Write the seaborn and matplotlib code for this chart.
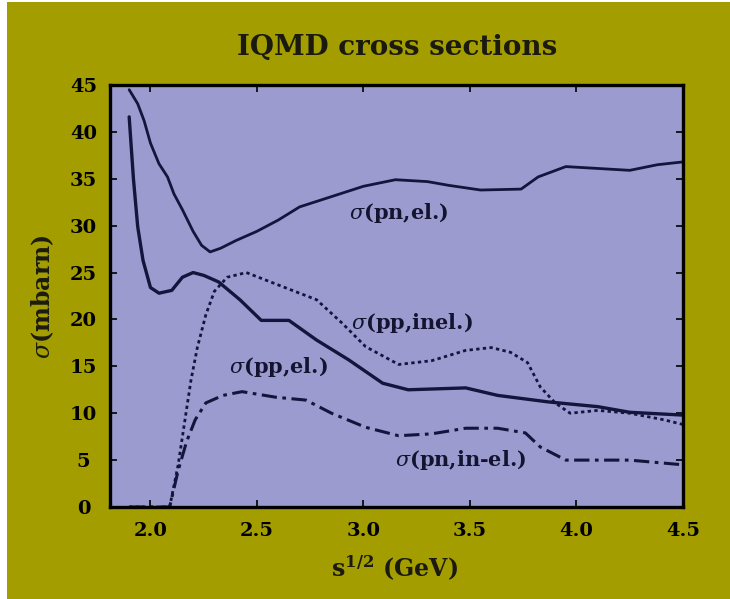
import matplotlib
matplotlib.use("Agg")
import matplotlib.pyplot as plt
import seaborn as sns
from matplotlib.patches import Rectangle

# ---- data ----
x_pn_el = [1.90, 1.94, 1.97, 2.00, 2.04, 2.08, 2.11, 2.15, 2.20, 2.24, 2.28, 2.33, 2.40, 2.50, 2.60,
           2.70, 2.85, 3.00, 3.15, 3.30, 3.40, 3.55, 3.74, 3.82, 3.95, 4.10, 4.25, 4.38, 4.50]
y_pn_el = [44.5, 43.0, 41.2, 38.8, 36.6, 35.2, 33.4, 31.7, 29.4, 27.9, 27.2, 27.6, 28.4, 29.4, 30.6,
           32.0, 33.1, 34.2, 34.9, 34.7, 34.3, 33.8, 33.9, 35.2, 36.3, 36.1, 35.9, 36.5, 36.8]

x_pp_el = [1.90, 1.92, 1.94, 1.965, 2.00, 2.04, 2.10, 2.15, 2.20, 2.25, 2.32, 2.42, 2.52, 2.65,
           2.78, 2.93, 3.09, 3.21, 3.48, 3.63, 3.87, 4.10, 4.25, 4.50]
y_pp_el = [41.6, 35.0, 29.9, 26.3, 23.4, 22.8, 23.1, 24.5, 25.0, 24.7, 24.0, 22.1, 19.9, 19.9,
           17.8, 15.7, 13.2, 12.5, 12.7, 11.9, 11.2, 10.7, 10.1, 9.8]

x_pp_inel = [1.90, 2.00, 2.09, 2.13, 2.16, 2.19, 2.22, 2.26, 2.30, 2.36, 2.45, 2.62, 2.78, 2.90,
             3.01, 3.165, 3.32, 3.48, 3.60, 3.69, 3.77, 3.83, 3.90, 3.97, 4.10, 4.25, 4.41, 4.50]
y_pp_inel = [0.0, 0.0, 0.0, 4.5, 9.0, 13.5, 17.0, 20.5, 23.0, 24.5, 25.0, 23.5, 22.1, 19.6,
             17.1, 15.2, 15.6, 16.7, 17.0, 16.5, 15.4, 12.8, 11.1, 10.0, 10.3, 10.0, 9.3, 8.8]

x_pn_inel = [1.90, 2.00, 2.09, 2.13, 2.17, 2.21, 2.26, 2.34, 2.43, 2.59, 2.73, 2.85, 3.01, 3.165,
             3.32, 3.48, 3.63, 3.76, 3.83, 3.95, 4.10, 4.25, 4.50]
y_pn_inel = [0.0, 0.0, 0.0, 3.9, 7.0, 9.3, 11.1, 11.9, 12.3, 11.7, 11.4, 10.0, 8.5, 7.6,
             7.8, 8.4, 8.4, 7.9, 6.4, 5.0, 5.0, 5.0, 4.5]

x_ticks = [2.0, 2.5, 3.0, 3.5, 4.0, 4.5]
x_ticklabels = ["2.0", "2.5", "3.0", "3.5", "4.0", "4.5"]
y_ticks = [0, 5, 10, 15, 20, 25, 30, 35, 40, 45]
y_ticklabels = ["0", "5", "10", "15", "20", "25", "30", "35", "40", "45"]

curve_labels = [r"$\sigma$(pn,el.)", r"$\sigma$(pp,inel.)", r"$\sigma$(pp,el.)", r"$\sigma$(pn,in-el.)"]
label_pos = [(2.93, 31.4), (2.94, 19.6), (2.37, 14.9), (3.15, 5.0)]

# ---- style ----
OLIVE = "#a39d00"
LAVENDER = "#9b9bcf"
INK = "#14143c"

sns.set_style("ticks")
plt.rcParams["font.family"] = ["DejaVu Serif"]
plt.rcParams["mathtext.fontset"] = "dejavuserif"

fig = plt.figure(figsize=(7.30, 5.99), dpi=100)
fig.patch.set_facecolor(OLIVE)
fig.patches.append(Rectangle((0, 0), 7 / 730, 1, transform=fig.transFigure,
                             facecolor="white", edgecolor="none", zorder=0))
fig.patches.append(Rectangle((0, 1 - 2 / 599), 1, 2 / 599, transform=fig.transFigure,
                             facecolor="white", edgecolor="none", zorder=0))

ax = fig.add_axes([110 / 730, 1 - 507 / 599, 573 / 730, 422 / 599])
ax.set_facecolor(LAVENDER)

sns.lineplot(x=x_pn_el, y=y_pn_el, ax=ax, color=INK, lw=2.0, sort=False)
sns.lineplot(x=x_pp_el, y=y_pp_el, ax=ax, color=INK, lw=2.4, sort=False)
sns.lineplot(x=x_pp_inel, y=y_pp_inel, ax=ax, color=INK, lw=2.0, sort=False,
             linestyle=(0, (1.2, 1.2)))
sns.lineplot(x=x_pn_inel, y=y_pn_inel, ax=ax, color=INK, lw=2.2, sort=False,
             linestyle=(0, (5, 1.8, 1.2, 1.8)))

for txt, (tx, ty) in zip(curve_labels, label_pos):
    ax.text(tx, ty, txt, ha="left", va="center", fontsize=15, fontweight="bold",
            color="#141430")

ax.set_xlim(1.81, 4.5)
ax.set_ylim(0, 45)
ax.set_xticks(x_ticks)
ax.set_xticklabels(x_ticklabels)
ax.set_yticks(y_ticks)
ax.set_yticklabels(y_ticklabels)
ax.tick_params(direction="in", length=5, width=1.2, top=True, right=True,
               labelsize=14, colors="black")
ax.tick_params(axis="y", pad=19)
ax.tick_params(axis="x", pad=11)
for lab in ax.get_yticklabels():
    lab.set_ha("center")
    lab.set_fontweight("bold")
for lab in ax.get_xticklabels():
    lab.set_fontweight("bold")
for sp in ax.spines.values():
    sp.set_linewidth(2.4)
    sp.set_color("black")

fig.text(397 / 730, 1 - 48 / 599, "IQMD cross sections", ha="center", va="center",
         fontsize=20, fontweight="bold", color="#1a1a10")
fig.text(43 / 730, 1 - 297 / 599, r"$\sigma$(mbarn)", rotation=90, ha="center", va="center",
         fontsize=17, fontweight="bold", color="#1a1a10")
fig.text(395 / 730, 1 - 568 / 599, r"s$^{\mathbf{1/2}}$ (GeV)", ha="center", va="center",
         fontsize=17, fontweight="bold", color="#1a1a10")

fig.savefig("out.png", dpi=100, facecolor=fig.get_facecolor())
